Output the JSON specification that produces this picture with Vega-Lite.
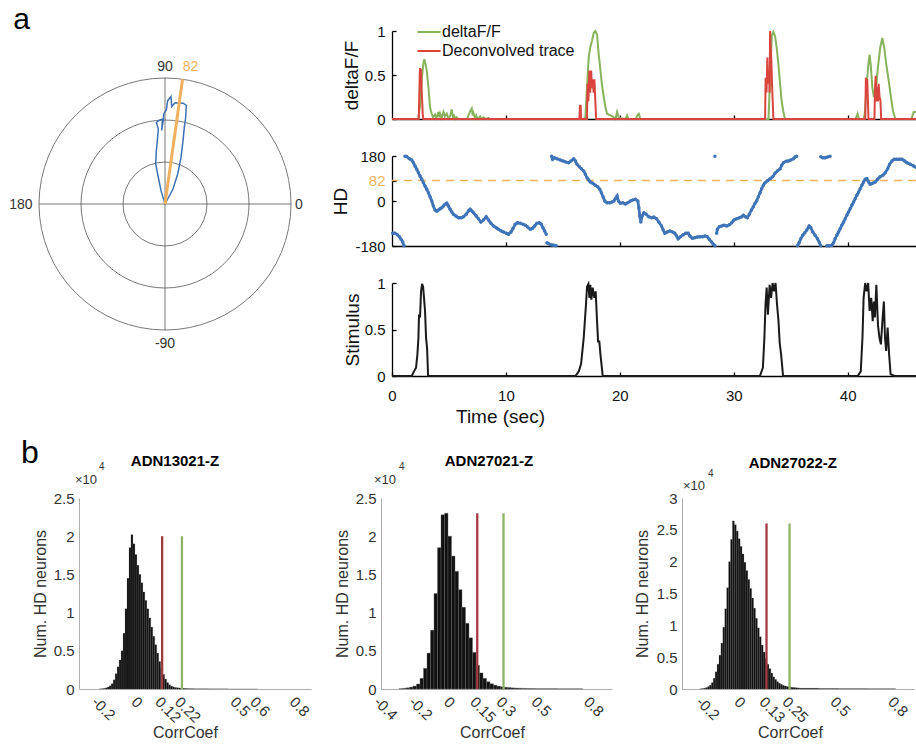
{
"$schema": "https://vega.github.io/schema/vega-lite/v6.json",
"background": "white",
"autosize": {"type": "pad"},
"padding": {"left": 9, "top": 5, "right": 0, "bottom": 0},
"config": {
  "font": "Liberation Sans",
  "view": {"stroke": null},
  "axis": {"grid": false, "labelFont": "Liberation Sans", "titleFont": "Liberation Sans", "titleFontWeight": "normal", "labelOverlap": false, "labelFlush": false, "labelBound": false, "tickCount": 30}
},
"datasets": {
  "rings": [{"r": 1}, {"r": 2}, {"r": 3}],
  "cross": [{"x1": -3, "x2": 3, "y1": 0, "y2": 0}, {"x1": 0, "x2": 0, "y1": -3, "y2": 3}],
  "pref": [{"x1": 0, "y1": 0, "x2": 0.418, "y2": 2.971}],
  "pol": [{"i":0,"x":0,"y":0},{"i":1,"x":-0.095,"y":0.317},{"i":2,"x":-0.175,"y":0.714},{"i":3,"x":-0.222,"y":0.952},{"i":4,"x":-0.206,"y":1.27},{"i":5,"x":-0.175,"y":1.587},{"i":6,"x":-0.159,"y":1.786},{"i":7,"x":-0.206,"y":1.944},{"i":8,"x":-0.111,"y":2.008},{"i":9,"x":-0.063,"y":2.02},{"i":10,"x":-0.079,"y":1.75},{"i":11,"x":-0.04,"y":2.0},{"i":12,"x":-0.032,"y":2.14},{"i":13,"x":0.032,"y":2.24},{"i":14,"x":0.063,"y":2.46},{"i":15,"x":0.111,"y":2.52},{"i":16,"x":0.143,"y":2.56},{"i":17,"x":0.159,"y":2.32},{"i":18,"x":0.238,"y":2.41},{"i":19,"x":0.429,"y":2.4},{"i":20,"x":0.508,"y":2.35},{"i":21,"x":0.492,"y":2.06},{"i":22,"x":0.46,"y":1.83},{"i":23,"x":0.429,"y":1.51},{"i":24,"x":0.381,"y":1.11},{"i":25,"x":0.302,"y":0.714},{"i":26,"x":0.19,"y":0.357},{"i":27,"x":0,"y":0}],
  "plab": [{"text":"90","x":0,"y":3.25},{"text":"82","x":0.607,"y":3.25},{"text":"180","x":-3.43,"y":-0.02},{"text":"0","x":3.19,"y":-0.02},{"text":"-90","x":0,"y":-3.34}],
  "dffg": [{"t":0,"v":0},{"t":2.3,"v":0},{"t":2.46,"v":0.15},{"t":2.61,"v":0.45},{"t":2.76,"v":0.64},{"t":2.84,"v":0.68},{"t":2.95,"v":0.62},{"t":3.05,"v":0.55},{"t":3.2,"v":0.36},{"t":3.34,"v":0.13},{"t":3.49,"v":0.06},{"t":3.6,"v":0.02},{"t":3.78,"v":0.05},{"t":3.9,"v":0.01},{"t":4.07,"v":0.08},{"t":4.15,"v":0.02},{"t":4.22,"v":0.06},{"t":4.35,"v":0.01},{"t":4.52,"v":0.08},{"t":4.65,"v":0.03},{"t":4.81,"v":0.06},{"t":4.95,"v":0.01},{"t":5.1,"v":0.03},{"t":5.25,"v":0.11},{"t":5.35,"v":0.02},{"t":5.45,"v":0.04},{"t":5.6,"v":0},{"t":5.69,"v":0.02},{"t":5.8,"v":0},{"t":6.6,"v":0},{"t":6.71,"v":0.04},{"t":6.86,"v":0.09},{"t":7.0,"v":0.12},{"t":7.08,"v":0.04},{"t":7.15,"v":0.07},{"t":7.3,"v":0.01},{"t":7.39,"v":0.04},{"t":7.5,"v":0},{"t":7.74,"v":0.03},{"t":7.85,"v":0},{"t":8.04,"v":0.02},{"t":8.2,"v":0},{"t":8.47,"v":0.01},{"t":8.6,"v":0},{"t":16.8,"v":0},{"t":16.97,"v":0.02},{"t":17.12,"v":0.36},{"t":17.27,"v":0.7},{"t":17.4,"v":0.81},{"t":17.56,"v":0.89},{"t":17.71,"v":0.98},{"t":17.85,"v":1.0},{"t":18.0,"v":0.96},{"t":18.15,"v":0.73},{"t":18.3,"v":0.55},{"t":18.44,"v":0.38},{"t":18.59,"v":0.25},{"t":18.73,"v":0.14},{"t":18.88,"v":0.06},{"t":19.17,"v":0.04},{"t":19.47,"v":0.02},{"t":19.62,"v":0},{"t":19.76,"v":0.08},{"t":19.9,"v":0.02},{"t":20.05,"v":0.01},{"t":20.5,"v":0},{"t":20.64,"v":0.04},{"t":20.75,"v":0},{"t":21.4,"v":0},{"t":21.52,"v":0.04},{"t":21.66,"v":0.06},{"t":21.8,"v":0},{"t":33.05,"v":0},{"t":33.2,"v":0.5},{"t":33.34,"v":0.95},{"t":33.48,"v":0.99},{"t":33.63,"v":0.94},{"t":33.77,"v":0.81},{"t":33.92,"v":0.62},{"t":34.07,"v":0.4},{"t":34.2,"v":0.21},{"t":34.36,"v":0.08},{"t":34.5,"v":0},{"t":40.7,"v":0},{"t":40.87,"v":0.06},{"t":41.0,"v":0},{"t":41.4,"v":0},{"t":41.5,"v":0.06},{"t":41.7,"v":0.44},{"t":41.85,"v":0.66},{"t":41.93,"v":0.73},{"t":42.02,"v":0.62},{"t":42.17,"v":0.36},{"t":42.3,"v":0.25},{"t":42.5,"v":0.36},{"t":42.65,"v":0.58},{"t":42.86,"v":0.81},{"t":43.04,"v":0.92},{"t":43.21,"v":0.81},{"t":43.39,"v":0.62},{"t":43.6,"v":0.44},{"t":43.8,"v":0.25},{"t":43.98,"v":0.09},{"t":44.19,"v":0},{"t":45.6,"v":0},{"t":45.8,"v":0.08},{"t":46.0,"v":0.08}],
  "dffr": [{"t":0,"v":0},{"t":2.35,"v":0},{"t":2.4,"v":0.3},{"t":2.45,"v":0.58},{"t":2.5,"v":0.45},{"t":2.55,"v":0.57},{"t":2.6,"v":0.35},{"t":2.65,"v":0.2},{"t":2.7,"v":0.05},{"t":2.75,"v":0},{"t":16.45,"v":0},{"t":16.5,"v":0.15},{"t":16.56,"v":0.15},{"t":16.6,"v":0},{"t":17.12,"v":0},{"t":17.16,"v":0.4},{"t":17.24,"v":0.2},{"t":17.32,"v":0.55},{"t":17.4,"v":0.3},{"t":17.48,"v":0.55},{"t":17.56,"v":0.35},{"t":17.62,"v":0.45},{"t":17.7,"v":0.3},{"t":17.77,"v":0.45},{"t":17.85,"v":0.2},{"t":17.92,"v":0},{"t":32.75,"v":0},{"t":32.8,"v":0.47},{"t":32.88,"v":0.3},{"t":32.95,"v":0.7},{"t":33.02,"v":0.4},{"t":33.1,"v":0.55},{"t":33.15,"v":0.3},{"t":33.19,"v":1.0},{"t":33.25,"v":0.8},{"t":33.3,"v":0.66},{"t":33.36,"v":0.4},{"t":33.42,"v":0.21},{"t":33.48,"v":0},{"t":41.55,"v":0},{"t":41.6,"v":0.47},{"t":41.66,"v":0.3},{"t":41.72,"v":0.45},{"t":41.78,"v":0.21},{"t":41.83,"v":0},{"t":42.35,"v":0},{"t":42.4,"v":0.33},{"t":42.46,"v":0.49},{"t":42.55,"v":0.2},{"t":42.6,"v":0.36},{"t":42.66,"v":0.2},{"t":42.72,"v":0.4},{"t":42.8,"v":0.25},{"t":42.88,"v":0.21},{"t":42.94,"v":0},{"t":46,"v":0}],
  "stim": [{"t":0,"v":0},{"t":1.73,"v":0},{"t":1.93,"v":0.05},{"t":2.11,"v":0.09},{"t":2.23,"v":0.23},{"t":2.32,"v":0.41},{"t":2.37,"v":0.66},{"t":2.46,"v":0.63},{"t":2.55,"v":0.91},{"t":2.64,"v":0.99},{"t":2.73,"v":0.96},{"t":2.81,"v":0.84},{"t":2.9,"v":0.7},{"t":2.99,"v":0.41},{"t":3.08,"v":0.3},{"t":3.17,"v":0},{"t":16.1,"v":0},{"t":16.4,"v":0.05},{"t":16.6,"v":0.13},{"t":16.83,"v":0.41},{"t":17.03,"v":0.77},{"t":17.12,"v":0.96},{"t":17.24,"v":0.99},{"t":17.33,"v":0.84},{"t":17.41,"v":0.98},{"t":17.5,"v":0.82},{"t":17.62,"v":0.95},{"t":17.76,"v":0.84},{"t":17.88,"v":0.91},{"t":18.0,"v":0.59},{"t":18.09,"v":0.37},{"t":18.2,"v":0.37},{"t":18.3,"v":0.23},{"t":18.5,"v":0},{"t":32.3,"v":0},{"t":32.56,"v":0.09},{"t":32.69,"v":0.41},{"t":32.79,"v":0.77},{"t":32.89,"v":0.95},{"t":33.0,"v":0.66},{"t":33.15,"v":0.98},{"t":33.28,"v":0.84},{"t":33.41,"v":1.0},{"t":33.54,"v":0.91},{"t":33.67,"v":1.0},{"t":33.8,"v":0.77},{"t":33.93,"v":0.59},{"t":34.03,"v":0.36},{"t":34.16,"v":0.23},{"t":34.33,"v":0},{"t":40.89,"v":0},{"t":41.15,"v":0.05},{"t":41.3,"v":0.41},{"t":41.4,"v":0.84},{"t":41.54,"v":1.0},{"t":41.67,"v":0.91},{"t":41.8,"v":1.0},{"t":41.93,"v":0.7},{"t":42.07,"v":0.84},{"t":42.2,"v":0.59},{"t":42.3,"v":0.8},{"t":42.39,"v":0.63},{"t":42.52,"v":0.98},{"t":42.66,"v":0.55},{"t":42.79,"v":0.41},{"t":42.92,"v":0.34},{"t":43.05,"v":0.59},{"t":43.18,"v":0.8},{"t":43.28,"v":0.41},{"t":43.38,"v":0.27},{"t":43.51,"v":0.52},{"t":43.64,"v":0.23},{"t":43.77,"v":0.02},{"t":44.1,"v":0},{"t":46,"v":0}],
  "hd": [{"t":0.06,"h":-129,"s":1},{"t":0.26,"h":-129,"s":1},{"t":0.47,"h":-135,"s":1},{"t":0.65,"h":-143,"s":1},{"t":0.79,"h":-153,"s":1},{"t":0.94,"h":-164,"s":1},{"t":1.06,"h":-179,"s":1},
    {"t":1.14,"h":179,"s":2},{"t":1.29,"h":178,"s":2},{"t":1.52,"h":169,"s":2},{"t":1.73,"h":164,"s":2},{"t":1.88,"h":153,"s":2},{"t":2.02,"h":140,"s":2},{"t":2.17,"h":127,"s":2},{"t":2.32,"h":113,"s":2},{"t":2.46,"h":100,"s":2},{"t":2.61,"h":87,"s":2},{"t":2.76,"h":73,"s":2},{"t":2.9,"h":60,"s":2},{"t":3.05,"h":47,"s":2},{"t":3.2,"h":33,"s":2},{"t":3.34,"h":17,"s":2},{"t":3.49,"h":0,"s":2},{"t":3.63,"h":-20,"s":2},{"t":3.78,"h":-36,"s":2},{"t":3.93,"h":-41,"s":2},{"t":4.07,"h":-36,"s":2},{"t":4.22,"h":-31,"s":2},{"t":4.37,"h":-27,"s":2},{"t":4.52,"h":-20,"s":2},{"t":4.66,"h":-13,"s":2},{"t":4.81,"h":-9,"s":2},{"t":4.95,"h":-20,"s":2},{"t":5.1,"h":-33,"s":2},{"t":5.25,"h":-44,"s":2},{"t":5.39,"h":-53,"s":2},{"t":5.6,"h":-60,"s":2},{"t":5.83,"h":-67,"s":2},{"t":6.07,"h":-67,"s":2},{"t":6.27,"h":-63,"s":2},{"t":6.51,"h":-53,"s":2},{"t":6.71,"h":-40,"s":2},{"t":6.86,"h":-33,"s":2},{"t":7.01,"h":-40,"s":2},{"t":7.15,"h":-47,"s":2},{"t":7.39,"h":-60,"s":2},{"t":7.59,"h":-71,"s":2},{"t":7.8,"h":-84,"s":2},{"t":8.03,"h":-76,"s":2},{"t":8.27,"h":-63,"s":2},{"t":8.47,"h":-76,"s":2},{"t":8.68,"h":-89,"s":2},{"t":8.91,"h":-100,"s":2},{"t":9.15,"h":-107,"s":2},{"t":9.35,"h":-113,"s":2},{"t":9.59,"h":-120,"s":2},{"t":9.79,"h":-124,"s":2},{"t":10.03,"h":-129,"s":2},{"t":10.23,"h":-133,"s":2},{"t":10.44,"h":-124,"s":2},{"t":10.61,"h":-111,"s":2},{"t":10.82,"h":-93,"s":2},{"t":11.02,"h":-87,"s":2},{"t":11.26,"h":-89,"s":2},{"t":11.49,"h":-93,"s":2},{"t":11.7,"h":-97,"s":2},{"t":11.9,"h":-104,"s":2},{"t":12.14,"h":-113,"s":2},{"t":12.34,"h":-109,"s":2},{"t":12.52,"h":-100,"s":2},{"t":12.72,"h":-89,"s":2},{"t":12.93,"h":-87,"s":2},{"t":13.11,"h":-93,"s":2},{"t":13.25,"h":-107,"s":2},{"t":13.4,"h":-120,"s":2},{"t":13.54,"h":-133,"s":2},
    {"t":13.6,"h":-167,"s":3},{"t":13.75,"h":-171,"s":3},{"t":13.95,"h":-175,"s":3},{"t":14.19,"h":-177,"s":3},{"t":14.42,"h":-179,"s":3},
    {"t":14.01,"h":179,"s":4},{"t":14.1,"h":167,"s":4},{"t":14.25,"h":173,"s":4},{"t":14.48,"h":169,"s":4},{"t":14.78,"h":164,"s":4},{"t":15.01,"h":160,"s":4},{"t":15.25,"h":156,"s":4},{"t":15.51,"h":153,"s":4},{"t":15.71,"h":160,"s":4},{"t":15.95,"h":169,"s":4},{"t":16.1,"h":160,"s":4},{"t":16.24,"h":147,"s":4},{"t":16.45,"h":137,"s":4},{"t":16.62,"h":129,"s":4},{"t":16.83,"h":120,"s":4},{"t":16.97,"h":107,"s":4},{"t":17.12,"h":93,"s":4},{"t":17.27,"h":84,"s":4},{"t":17.41,"h":76,"s":4},{"t":17.62,"h":71,"s":4},{"t":17.85,"h":63,"s":4},{"t":18.06,"h":57,"s":4},{"t":18.24,"h":47,"s":4},{"t":18.38,"h":33,"s":4},{"t":18.53,"h":17,"s":4},{"t":18.68,"h":0,"s":4},{"t":18.88,"h":-7,"s":4},{"t":19.11,"h":-7,"s":4},{"t":19.32,"h":-4,"s":4},{"t":19.47,"h":0,"s":4},{"t":19.61,"h":9,"s":4},{"t":19.76,"h":20,"s":4},{"t":19.88,"h":0,"s":4},{"t":20.05,"h":-9,"s":4},{"t":20.26,"h":-7,"s":4},{"t":20.49,"h":-12,"s":4},{"t":20.7,"h":-7,"s":4},{"t":20.93,"h":0,"s":4},{"t":21.14,"h":4,"s":4},{"t":21.37,"h":7,"s":4},{"t":21.58,"h":0,"s":4},{"t":21.67,"h":-27,"s":4},{"t":21.75,"h":-60,"s":4},{"t":21.84,"h":-84,"s":4},{"t":21.96,"h":-60,"s":4},{"t":22.11,"h":-47,"s":4},{"t":22.31,"h":-53,"s":4},{"t":22.54,"h":-63,"s":4},{"t":22.78,"h":-67,"s":4},{"t":22.98,"h":-64,"s":4},{"t":23.22,"h":-71,"s":4},{"t":23.42,"h":-84,"s":4},{"t":23.66,"h":-100,"s":4},{"t":23.81,"h":-116,"s":4},{"t":23.95,"h":-129,"s":4},{"t":24.16,"h":-124,"s":4},{"t":24.39,"h":-120,"s":4},{"t":24.63,"h":-124,"s":4},{"t":24.83,"h":-129,"s":4},{"t":24.98,"h":-140,"s":4},{"t":25.12,"h":-151,"s":4},{"t":25.33,"h":-143,"s":4},{"t":25.56,"h":-135,"s":4},{"t":25.8,"h":-129,"s":4},{"t":26.0,"h":-129,"s":4},{"t":26.15,"h":-140,"s":4},{"t":26.36,"h":-149,"s":4},{"t":26.59,"h":-147,"s":4},{"t":26.8,"h":-144,"s":4},{"t":27.03,"h":-143,"s":4},{"t":27.27,"h":-143,"s":4},{"t":27.47,"h":-140,"s":4},{"t":27.68,"h":-143,"s":4},{"t":27.85,"h":-153,"s":4},{"t":28.06,"h":-164,"s":4},{"t":28.2,"h":-173,"s":4},{"t":28.35,"h":-179,"s":4},
    {"t":28.35,"h":179,"s":5},
    {"t":28.5,"h":-129,"s":6},{"t":28.56,"h":-113,"s":6},{"t":28.73,"h":-103,"s":6},{"t":28.94,"h":-100,"s":6},{"t":29.14,"h":-97,"s":6},{"t":29.38,"h":-100,"s":6},{"t":29.61,"h":-95,"s":6},{"t":29.82,"h":-87,"s":6},{"t":30.02,"h":-76,"s":6},{"t":30.26,"h":-71,"s":6},{"t":30.49,"h":-67,"s":6},{"t":30.7,"h":-63,"s":6},{"t":30.84,"h":-57,"s":6},{"t":31.02,"h":-63,"s":6},{"t":31.19,"h":-67,"s":6},{"t":31.37,"h":-53,"s":6},{"t":31.55,"h":-36,"s":6},{"t":31.72,"h":-23,"s":6},{"t":31.87,"h":-9,"s":6},{"t":32.01,"h":0,"s":6},{"t":32.16,"h":17,"s":6},{"t":32.31,"h":33,"s":6},{"t":32.45,"h":49,"s":6},{"t":32.6,"h":63,"s":6},{"t":32.75,"h":73,"s":6},{"t":32.95,"h":81,"s":6},{"t":33.19,"h":89,"s":6},{"t":33.42,"h":97,"s":6},{"t":33.63,"h":111,"s":6},{"t":33.83,"h":120,"s":6},{"t":34.07,"h":129,"s":6},{"t":34.21,"h":143,"s":6},{"t":34.36,"h":153,"s":6},{"t":34.59,"h":159,"s":6},{"t":34.8,"h":160,"s":6},{"t":35.0,"h":164,"s":6},{"t":35.24,"h":169,"s":6},{"t":35.39,"h":176,"s":6},{"t":35.53,"h":179,"s":6},
    {"t":37.64,"h":177,"s":7},{"t":37.82,"h":173,"s":7},{"t":38.02,"h":173,"s":7},{"t":38.23,"h":176,"s":7},{"t":38.46,"h":179,"s":7},
    {"t":35.59,"h":-179,"s":8},{"t":35.74,"h":-167,"s":8},{"t":35.88,"h":-151,"s":8},{"t":36.06,"h":-137,"s":8},{"t":36.24,"h":-127,"s":8},{"t":36.41,"h":-116,"s":8},{"t":36.62,"h":-100,"s":8},{"t":36.76,"h":-107,"s":8},{"t":36.94,"h":-124,"s":8},{"t":37.14,"h":-137,"s":8},{"t":37.35,"h":-151,"s":8},{"t":37.53,"h":-167,"s":8},{"t":37.64,"h":-179,"s":8},
    {"t":38.17,"h":-179,"s":9},{"t":38.41,"h":-179,"s":9},{"t":38.61,"h":-177,"s":9},{"t":38.76,"h":-167,"s":9},{"t":38.9,"h":-151,"s":9},{"t":39.05,"h":-137,"s":9},{"t":39.2,"h":-124,"s":9},{"t":39.34,"h":-111,"s":9},{"t":39.49,"h":-97,"s":9},{"t":39.64,"h":-84,"s":9},{"t":39.78,"h":-71,"s":9},{"t":39.93,"h":-57,"s":9},{"t":40.08,"h":-44,"s":9},{"t":40.22,"h":-31,"s":9},{"t":40.37,"h":-17,"s":9},{"t":40.52,"h":-4,"s":9},{"t":40.66,"h":9,"s":9},{"t":40.81,"h":23,"s":9},{"t":40.96,"h":36,"s":9},{"t":41.1,"h":49,"s":9},{"t":41.25,"h":63,"s":9},{"t":41.4,"h":76,"s":9},{"t":41.54,"h":87,"s":9},{"t":41.69,"h":89,"s":9},{"t":41.84,"h":76,"s":9},{"t":41.98,"h":67,"s":9},{"t":42.19,"h":71,"s":9},{"t":42.42,"h":76,"s":9},{"t":42.63,"h":87,"s":9},{"t":42.86,"h":97,"s":9},{"t":43.1,"h":103,"s":9},{"t":43.3,"h":113,"s":9},{"t":43.51,"h":129,"s":9},{"t":43.68,"h":147,"s":9},{"t":43.89,"h":160,"s":9},{"t":44.09,"h":167,"s":9},{"t":44.33,"h":167,"s":9},{"t":44.56,"h":167,"s":9},{"t":44.77,"h":167,"s":9},{"t":44.97,"h":161,"s":9},{"t":45.21,"h":153,"s":9},{"t":45.5,"h":147,"s":9},{"t":45.79,"h":140,"s":9},{"t":46.0,"h":134,"s":9}],
  "h1": [{"lo":-0.2,"hi":-0.19,"n":20},{"lo":-0.19,"hi":-0.18,"n":40},{"lo":-0.18,"hi":-0.17,"n":80},{"lo":-0.17,"hi":-0.16,"n":150},{"lo":-0.16,"hi":-0.15,"n":260},{"lo":-0.15,"hi":-0.14,"n":420},{"lo":-0.14,"hi":-0.13,"n":700},{"lo":-0.13,"hi":-0.12,"n":1200},{"lo":-0.12,"hi":-0.11,"n":2000},{"lo":-0.11,"hi":-0.1,"n":2900},{"lo":-0.1,"hi":-0.09,"n":3800},{"lo":-0.09,"hi":-0.08,"n":5000},{"lo":-0.08,"hi":-0.07,"n":7300},{"lo":-0.07,"hi":-0.06,"n":10500},{"lo":-0.06,"hi":-0.05,"n":14500},{"lo":-0.05,"hi":-0.04,"n":18500},{"lo":-0.04,"hi":-0.03,"n":20200},{"lo":-0.03,"hi":-0.02,"n":19000},{"lo":-0.02,"hi":-0.01,"n":17600},{"lo":-0.01,"hi":0,"n":16200},{"lo":0,"hi":0.01,"n":15000},{"lo":0.01,"hi":0.02,"n":13900},{"lo":0.02,"hi":0.03,"n":12700},{"lo":0.03,"hi":0.04,"n":11600},{"lo":0.04,"hi":0.05,"n":10500},{"lo":0.05,"hi":0.06,"n":9300},{"lo":0.06,"hi":0.07,"n":8100},{"lo":0.07,"hi":0.08,"n":6900},{"lo":0.08,"hi":0.09,"n":5800},{"lo":0.09,"hi":0.1,"n":4700},{"lo":0.1,"hi":0.11,"n":3600},{"lo":0.11,"hi":0.12,"n":2700},{"lo":0.12,"hi":0.13,"n":1900},{"lo":0.13,"hi":0.14,"n":1300},{"lo":0.14,"hi":0.15,"n":850},{"lo":0.15,"hi":0.16,"n":560},{"lo":0.16,"hi":0.17,"n":380},{"lo":0.17,"hi":0.18,"n":270},{"lo":0.18,"hi":0.19,"n":200},{"lo":0.19,"hi":0.2,"n":160},{"lo":0.2,"hi":0.21,"n":130},{"lo":0.21,"hi":0.22,"n":110},{"lo":0.22,"hi":0.23,"n":90},{"lo":0.23,"hi":0.24,"n":75},{"lo":0.24,"hi":0.25,"n":60},{"lo":0.25,"hi":0.26,"n":50},{"lo":0.26,"hi":0.27,"n":45},{"lo":0.27,"hi":0.28,"n":40},{"lo":0.28,"hi":0.35,"n":30},{"lo":0.35,"hi":0.45,"n":20},{"lo":0.45,"hi":0.6,"n":10}],
  "h2": [{"lo":-0.3,"hi":-0.28,"n":40},{"lo":-0.28,"hi":-0.26,"n":90},{"lo":-0.26,"hi":-0.24,"n":150},{"lo":-0.24,"hi":-0.22,"n":250},{"lo":-0.22,"hi":-0.2,"n":380},{"lo":-0.2,"hi":-0.18,"n":650},{"lo":-0.18,"hi":-0.16,"n":1400},{"lo":-0.16,"hi":-0.14,"n":2700},{"lo":-0.14,"hi":-0.12,"n":4700},{"lo":-0.12,"hi":-0.1,"n":7700},{"lo":-0.1,"hi":-0.08,"n":12500},{"lo":-0.08,"hi":-0.06,"n":18500},{"lo":-0.06,"hi":-0.04,"n":22800},{"lo":-0.04,"hi":-0.02,"n":23000},{"lo":-0.02,"hi":0,"n":20000},{"lo":0,"hi":0.02,"n":17400},{"lo":0.02,"hi":0.04,"n":15400},{"lo":0.04,"hi":0.06,"n":13000},{"lo":0.06,"hi":0.08,"n":10700},{"lo":0.08,"hi":0.1,"n":8600},{"lo":0.1,"hi":0.12,"n":6700},{"lo":0.12,"hi":0.14,"n":4800},{"lo":0.14,"hi":0.16,"n":3100},{"lo":0.16,"hi":0.18,"n":2100},{"lo":0.18,"hi":0.2,"n":1400},{"lo":0.2,"hi":0.22,"n":950},{"lo":0.22,"hi":0.24,"n":680},{"lo":0.24,"hi":0.26,"n":500},{"lo":0.26,"hi":0.28,"n":370},{"lo":0.28,"hi":0.3,"n":290},{"lo":0.3,"hi":0.32,"n":230},{"lo":0.32,"hi":0.34,"n":190},{"lo":0.34,"hi":0.36,"n":150},{"lo":0.36,"hi":0.38,"n":120},{"lo":0.38,"hi":0.4,"n":100},{"lo":0.4,"hi":0.42,"n":80},{"lo":0.42,"hi":0.44,"n":70},{"lo":0.44,"hi":0.46,"n":60},{"lo":0.46,"hi":0.48,"n":50},{"lo":0.48,"hi":0.6,"n":40},{"lo":0.6,"hi":0.75,"n":25}],
  "h3": [{"lo":-0.22,"hi":-0.21,"n":30},{"lo":-0.21,"hi":-0.2,"n":70},{"lo":-0.2,"hi":-0.19,"n":130},{"lo":-0.19,"hi":-0.18,"n":220},{"lo":-0.18,"hi":-0.17,"n":380},{"lo":-0.17,"hi":-0.16,"n":600},{"lo":-0.16,"hi":-0.15,"n":1000},{"lo":-0.15,"hi":-0.14,"n":1700},{"lo":-0.14,"hi":-0.13,"n":2700},{"lo":-0.13,"hi":-0.12,"n":3900},{"lo":-0.12,"hi":-0.11,"n":5300},{"lo":-0.11,"hi":-0.1,"n":7200},{"lo":-0.1,"hi":-0.09,"n":9700},{"lo":-0.09,"hi":-0.08,"n":12600},{"lo":-0.08,"hi":-0.07,"n":15900},{"lo":-0.07,"hi":-0.06,"n":20000},{"lo":-0.06,"hi":-0.05,"n":23500},{"lo":-0.05,"hi":-0.04,"n":26400},{"lo":-0.04,"hi":-0.03,"n":25800},{"lo":-0.03,"hi":-0.02,"n":24800},{"lo":-0.02,"hi":-0.01,"n":23600},{"lo":-0.01,"hi":0,"n":22400},{"lo":0,"hi":0.01,"n":21200},{"lo":0.01,"hi":0.02,"n":19900},{"lo":0.02,"hi":0.03,"n":18600},{"lo":0.03,"hi":0.04,"n":17200},{"lo":0.04,"hi":0.05,"n":15800},{"lo":0.05,"hi":0.06,"n":14300},{"lo":0.06,"hi":0.07,"n":12700},{"lo":0.07,"hi":0.08,"n":11100},{"lo":0.08,"hi":0.09,"n":9600},{"lo":0.09,"hi":0.1,"n":8200},{"lo":0.1,"hi":0.11,"n":6900},{"lo":0.11,"hi":0.12,"n":5800},{"lo":0.12,"hi":0.13,"n":4800},{"lo":0.13,"hi":0.14,"n":3900},{"lo":0.14,"hi":0.15,"n":3200},{"lo":0.15,"hi":0.16,"n":2500},{"lo":0.16,"hi":0.17,"n":1900},{"lo":0.17,"hi":0.18,"n":1500},{"lo":0.18,"hi":0.19,"n":1150},{"lo":0.19,"hi":0.2,"n":900},{"lo":0.2,"hi":0.21,"n":720},{"lo":0.21,"hi":0.22,"n":580},{"lo":0.22,"hi":0.23,"n":470},{"lo":0.23,"hi":0.24,"n":400},{"lo":0.24,"hi":0.25,"n":340},{"lo":0.25,"hi":0.26,"n":290},{"lo":0.26,"hi":0.27,"n":250},{"lo":0.27,"hi":0.28,"n":220},{"lo":0.28,"hi":0.29,"n":190},{"lo":0.29,"hi":0.3,"n":165},{"lo":0.3,"hi":0.4,"n":120},{"lo":0.4,"hi":0.5,"n":80},{"lo":0.5,"hi":0.65,"n":60},{"lo":0.65,"hi":0.8,"n":45}]
},
"spacing": 11,
"resolve": {"scale": {"color": "independent"}},
"vconcat": [
 {
  "hconcat": [
   {
    "width": 212, "height": 345,
    "layer": [
     {"data": {"name": "rings"}, "mark": {"type": "arc", "theta": 0, "theta2": 6.2832, "filled": false, "color": "#555555", "strokeWidth": 0.8},
      "encoding": {
        "x": {"datum": 0, "type": "quantitative", "scale": {"domain": [-2.048, 3], "nice": false, "zero": false}, "axis": null},
        "y": {"datum": 0, "type": "quantitative", "scale": {"domain": [-4.095, 4.119], "nice": false, "zero": false}, "axis": null},
        "radius": {"field": "r", "type": "quantitative", "stack": null, "scale": {"type": "linear", "domain": [0, 3], "range": [0, 126], "zero": true}}}},
     {"data": {"name": "cross"}, "mark": {"type": "rule", "color": "#555555", "strokeWidth": 0.8},
      "encoding": {"x": {"field": "x1", "type": "quantitative", "axis": null}, "x2": {"field": "x2"}, "y": {"field": "y1", "type": "quantitative", "axis": null}, "y2": {"field": "y2"}}},
     {"data": {"name": "pol"}, "mark": {"type": "line", "color": "#3e72b6", "strokeWidth": 1.5},
      "encoding": {"x": {"field": "x", "type": "quantitative", "axis": null}, "y": {"field": "y", "type": "quantitative", "axis": null}, "order": {"field": "i", "type": "quantitative"}}},
     {"data": {"name": "pref"}, "mark": {"type": "rule", "color": "#f0b15e", "strokeWidth": 3},
      "encoding": {"x": {"field": "x1", "type": "quantitative", "axis": null}, "x2": {"field": "x2"}, "y": {"field": "y1", "type": "quantitative", "axis": null}, "y2": {"field": "y2"}}},
     {"data": {"name": "plab"}, "mark": {"type": "text", "fontSize": 14, "align": "center", "baseline": "middle"},
      "encoding": {"x": {"field": "x", "type": "quantitative", "axis": null}, "y": {"field": "y", "type": "quantitative", "axis": null}, "text": {"field": "text"},
        "color": {"condition": {"test": "datum.text === '82'", "value": "#f0b15e"}, "value": "#333333"}}},
     {"data": {"values": [{}]}, "mark": {"type": "text", "text": "a", "fontSize": 30, "align": "left", "baseline": "alphabetic", "color": "black"},
      "encoding": {"x": {"datum": -3.612, "type": "quantitative", "axis": null}, "y": {"datum": 4.16, "type": "quantitative", "axis": null}}}
    ]
   },
   {
    "vconcat": [
     {
      "width": 524, "height": 88,
      "layer": [
       {"data": {"name": "dffg"}, "mark": {"type": "line", "strokeWidth": 2},
        "encoding": {
          "x": {"field": "t", "type": "quantitative", "scale": {"domain": [0, 46], "nice": false, "zero": false},
                "axis": {"values": [10, 20, 30, 40], "labels": false, "title": null, "domainColor": "black", "domainWidth": 1.3, "tickColor": "black", "tickWidth": 1.3, "tickSize": -4}},
          "y": {"field": "v", "type": "quantitative", "scale": {"domain": [0, 1], "nice": false},
                "axis": {"values": [0, 0.5, 1], "tickCount": 30, "labelExpr": "'' + datum.value", "title": "deltaF/F", "titleX": -41, "titleBaseline": "middle", "titleFontSize": 19, "titleColor": "#111111", "labelFontSize": 15, "labelColor": "#111111", "labelPadding": 11, "domainColor": "black", "domainWidth": 1.3, "tickColor": "black", "tickWidth": 1.3, "tickSize": -4}},
          "color": {"datum": "deltaF/F", "type": "nominal", "scale": {"domain": ["deltaF/F", "Deconvolved trace"], "range": ["#87b35c", "#d9453c"]},
                    "legend": {"title": null, "orient": "none", "legendX": 28, "legendY": -8, "direction": "vertical", "symbolType": "M-1.45,0H1.45", "symbolSize": 256, "symbolStrokeWidth": 2, "labelFontSize": 16, "labelFont": "Liberation Sans", "labelColor": "#111111", "labelOffset": 4, "rowPadding": 2, "padding": 0}}}},
       {"data": {"name": "dffr"}, "mark": {"type": "line", "strokeWidth": 2},
        "encoding": {"x": {"field": "t", "type": "quantitative"}, "y": {"field": "v", "type": "quantitative"}, "color": {"datum": "Deconvolved trace", "type": "nominal"}}}
      ]
     },
     {
      "width": 524, "height": 90,
      "layer": [
       {"data": {"values": [{}]}, "mark": {"type": "rule", "color": "#f0b25f", "strokeWidth": 1.6, "strokeDash": [8, 6]},
        "encoding": {"y": {"datum": 82, "type": "quantitative", "scale": {"domain": [-180, 180], "nice": false, "zero": false},
          "axis": {"values": [-180, 0, 82, 180], "tickCount": 30, "labelExpr": "'' + datum.value", "title": "HD", "titleX": -52, "titleBaseline": "middle", "titleFontSize": 19, "titleColor": "#111111", "labelFontSize": 15, "labelPadding": 11,
                   "labelColor": {"condition": {"test": "datum.value === 82", "value": "#f0b25f"}, "value": "#111111"},
                   "domainColor": "black", "domainWidth": 1.3, "tickColor": "black", "tickWidth": 1.3, "tickSize": -4}}}},
       {"data": {"name": "hd"}, "mark": {"type": "line", "color": "#3f74b8", "strokeWidth": 2.8},
        "encoding": {"x": {"field": "t", "type": "quantitative", "scale": {"domain": [0, 46], "nice": false, "zero": false},
                "axis": {"values": [10, 20, 30, 40], "labels": false, "title": null, "domainColor": "black", "domainWidth": 1.3, "tickColor": "black", "tickWidth": 1.3, "tickSize": -4}},
          "y": {"field": "h", "type": "quantitative"}, "detail": {"field": "s", "type": "nominal"}}},
       {"data": {"name": "hd"}, "mark": {"type": "point", "filled": true, "color": "#3f74b8", "size": 12, "opacity": 1},
        "encoding": {"x": {"field": "t", "type": "quantitative"}, "y": {"field": "h", "type": "quantitative"}}}
      ]
     },
     {
      "width": 524, "height": 93,
      "data": {"name": "stim"},
      "mark": {"type": "line", "color": "#1a1a1a", "strokeWidth": 2},
      "encoding": {
        "x": {"field": "t", "type": "quantitative", "scale": {"domain": [0, 46], "nice": false, "zero": false},
              "axis": {"values": [0, 10, 20, 30, 40], "tickCount": 30, "labelExpr": "'' + datum.value", "title": "Time (sec)", "titleX": 108, "titleY": 40, "titleBaseline": "middle", "titleFontSize": 19, "titleColor": "#111111", "labelFontSize": 15, "labelColor": "#111111", "labelPadding": 16, "domainColor": "black", "domainWidth": 1.3, "tickColor": "black", "tickWidth": 1.3, "tickSize": -4}},
        "y": {"field": "v", "type": "quantitative", "scale": {"domain": [0, 1], "nice": false},
              "axis": {"values": [0, 0.5, 1], "tickCount": 30, "labelExpr": "'' + datum.value", "title": "Stimulus", "titleX": -40, "titleBaseline": "middle", "titleFontSize": 19, "titleColor": "#111111", "labelFontSize": 15, "labelColor": "#111111", "labelPadding": 11, "domainColor": "black", "domainWidth": 1.3, "tickColor": "black", "tickWidth": 1.3, "tickSize": -4}}
      }
     }
    ],
    "spacing": 37, "bounds": "flush", "resolve": {"scale": {"color": "independent"}}
   }
  ],
  "spacing": 27, "resolve": {"scale": {"color": "independent"}}
 },
 {
  "hconcat": [
   {
    "width": 232, "height": 191,
    "layer": [
     {"data": {"name": "h1"}, "mark": {"type": "bar", "color": "#111111", "stroke": "#555555", "strokeWidth": 0.2, "binSpacing": 0},
      "encoding": {
        "x": {"field": "lo", "type": "quantitative", "bin": "binned", "scale": {"domain": [-0.3, 0.872], "nice": false, "zero": false},
              "axis": {"values": [-0.2, 0, 0.12, 0.22, 0.5, 0.6, 0.8], "tickCount": 30, "labelExpr": "'' + datum.value", "title": "CorrCoef", "titleX": 106, "titleY": 43, "titleBaseline": "middle", "titleFontSize": 16, "titleColor": "#333333", "labelAngle": 45, "labelAlign": "left", "labelBaseline": "top", "labelPadding": 5, "labelFontSize": 15, "labelColor": "#333333", "ticks": false, "domainColor": "#999999", "domainWidth": 0.8}},
        "x2": {"field": "hi"},
        "y": {"field": "n", "type": "quantitative", "scale": {"domain": [0, 25000], "nice": false},
              "axis": {"values": [0, 5000, 10000, 15000, 20000, 25000], "tickCount": 30, "labelExpr": "'' + datum.value / 10000", "title": "Num. HD neurons", "titleX": -39, "titleBaseline": "middle", "titleFontSize": 16, "titleColor": "#333333", "labelFontSize": 15, "labelColor": "#333333", "labelPadding": 5, "ticks": false, "domainColor": "#999999", "domainWidth": 0.8}}}},
     {"data": {"values": [{}]}, "mark": {"type": "rule", "color": "#a13a40", "strokeWidth": 2.3},
      "encoding": {"x": {"datum": 0.12, "type": "quantitative"}, "y": {"datum": 0, "type": "quantitative"}, "y2": {"datum": 20000}}},
     {"data": {"values": [{}]}, "mark": {"type": "rule", "color": "#8fb363", "strokeWidth": 2.3},
      "encoding": {"x": {"datum": 0.22, "type": "quantitative"}, "y": {"datum": 0, "type": "quantitative"}, "y2": {"datum": 20000}}},
     {"data": {"values": [{}]}, "mark": {"type": "text", "text": "×10", "fontSize": 13, "align": "left", "baseline": "alphabetic", "dx": -4, "dy": -14, "color": "#333333"},
      "encoding": {"x": {"datum": -0.3, "type": "quantitative"}, "y": {"datum": 25000, "type": "quantitative"}}},
     {"data": {"values": [{}]}, "mark": {"type": "text", "text": "4", "fontSize": 10, "align": "left", "baseline": "alphabetic", "dx": 20, "dy": -28, "color": "#333333"},
      "encoding": {"x": {"datum": -0.3, "type": "quantitative"}, "y": {"datum": 25000, "type": "quantitative"}}},
     {"data": {"values": [{}]}, "mark": {"type": "text", "text": "ADN13021-Z", "fontSize": 15, "fontWeight": "bold", "align": "center", "baseline": "middle", "color": "black"},
      "encoding": {"x": {"datum": 0.185, "type": "quantitative"}, "y": {"datum": 29843, "type": "quantitative"}}},
     {"data": {"values": [{}]}, "mark": {"type": "text", "text": "b", "fontSize": 32, "align": "left", "baseline": "alphabetic", "dx": -58, "dy": -35, "color": "black"},
      "encoding": {"x": {"datum": -0.3, "type": "quantitative"}, "y": {"datum": 25000, "type": "quantitative"}}}
    ]
   },
   {
    "width": 231, "height": 191,
    "layer": [
     {"data": {"name": "h2"}, "mark": {"type": "bar", "color": "#111111", "stroke": "#666666", "strokeWidth": 0.4, "binSpacing": 0},
      "encoding": {
        "x": {"field": "lo", "type": "quantitative", "bin": "binned", "scale": {"domain": [-0.4, 0.92], "nice": false, "zero": false},
              "axis": {"values": [-0.4, -0.2, 0, 0.15, 0.3, 0.5, 0.8], "tickCount": 30, "labelExpr": "'' + datum.value", "title": "CorrCoef", "titleX": 111, "titleY": 43, "titleBaseline": "middle", "titleFontSize": 16, "titleColor": "#333333", "labelAngle": 45, "labelAlign": "left", "labelBaseline": "top", "labelPadding": 5, "labelFontSize": 15, "labelColor": "#333333", "ticks": false, "domainColor": "#999999", "domainWidth": 0.8}},
        "x2": {"field": "hi"},
        "y": {"field": "n", "type": "quantitative", "scale": {"domain": [0, 25000], "nice": false},
              "axis": {"values": [0, 5000, 10000, 15000, 20000, 25000], "tickCount": 30, "labelExpr": "'' + datum.value / 10000", "title": "Num. HD neurons", "titleX": -39, "titleBaseline": "middle", "titleFontSize": 16, "titleColor": "#333333", "labelFontSize": 15, "labelColor": "#333333", "labelPadding": 5, "ticks": false, "domainColor": "#999999", "domainWidth": 0.8}}}},
     {"data": {"values": [{}]}, "mark": {"type": "rule", "color": "#a13a40", "strokeWidth": 2.3},
      "encoding": {"x": {"datum": 0.15, "type": "quantitative"}, "y": {"datum": 0, "type": "quantitative"}, "y2": {"datum": 23000}}},
     {"data": {"values": [{}]}, "mark": {"type": "rule", "color": "#8fb363", "strokeWidth": 2.3},
      "encoding": {"x": {"datum": 0.3, "type": "quantitative"}, "y": {"datum": 0, "type": "quantitative"}, "y2": {"datum": 23000}}},
     {"data": {"values": [{}]}, "mark": {"type": "text", "text": "×10", "fontSize": 13, "align": "left", "baseline": "alphabetic", "dx": -7, "dy": -14, "color": "#333333"},
      "encoding": {"x": {"datum": -0.4, "type": "quantitative"}, "y": {"datum": 25000, "type": "quantitative"}}},
     {"data": {"values": [{}]}, "mark": {"type": "text", "text": "4", "fontSize": 10, "align": "left", "baseline": "alphabetic", "dx": 18, "dy": -28, "color": "#333333"},
      "encoding": {"x": {"datum": -0.4, "type": "quantitative"}, "y": {"datum": 25000, "type": "quantitative"}}},
     {"data": {"values": [{}]}, "mark": {"type": "text", "text": "ADN27021-Z", "fontSize": 15, "fontWeight": "bold", "align": "center", "baseline": "middle", "color": "black"},
      "encoding": {"x": {"datum": 0.217, "type": "quantitative"}, "y": {"datum": 29800, "type": "quantitative"}}}
    ]
   },
   {
    "width": 232, "height": 191,
    "layer": [
     {"data": {"name": "h3"}, "mark": {"type": "bar", "color": "#111111", "stroke": "#555555", "strokeWidth": 0.2, "binSpacing": 0},
      "encoding": {
        "x": {"field": "lo", "type": "quantitative", "bin": "binned", "scale": {"domain": [-0.31, 0.898], "nice": false, "zero": false},
              "axis": {"values": [-0.2, 0, 0.13, 0.25, 0.5, 0.8], "tickCount": 30, "labelExpr": "'' + datum.value", "title": "CorrCoef", "titleX": 108, "titleY": 43, "titleBaseline": "middle", "titleFontSize": 16, "titleColor": "#333333", "labelAngle": 45, "labelAlign": "left", "labelBaseline": "top", "labelPadding": 5, "labelFontSize": 15, "labelColor": "#333333", "ticks": false, "domainColor": "#999999", "domainWidth": 0.8}},
        "x2": {"field": "hi"},
        "y": {"field": "n", "type": "quantitative", "scale": {"domain": [0, 30000], "nice": false},
              "axis": {"values": [0, 5000, 10000, 15000, 20000, 25000, 30000], "tickCount": 30, "labelExpr": "'' + datum.value / 10000", "title": "Num. HD neurons", "titleX": -40, "titleBaseline": "middle", "titleFontSize": 16, "titleColor": "#333333", "labelFontSize": 15, "labelColor": "#333333", "labelPadding": 5, "ticks": false, "domainColor": "#999999", "domainWidth": 0.8}}}},
     {"data": {"values": [{}]}, "mark": {"type": "rule", "color": "#a13a40", "strokeWidth": 2.3},
      "encoding": {"x": {"datum": 0.13, "type": "quantitative"}, "y": {"datum": 0, "type": "quantitative"}, "y2": {"datum": 26000}}},
     {"data": {"values": [{}]}, "mark": {"type": "rule", "color": "#8fb363", "strokeWidth": 2.3},
      "encoding": {"x": {"datum": 0.25, "type": "quantitative"}, "y": {"datum": 0, "type": "quantitative"}, "y2": {"datum": 26000}}},
     {"data": {"values": [{}]}, "mark": {"type": "text", "text": "×10", "fontSize": 13, "align": "left", "baseline": "alphabetic", "dx": 1, "dy": -8, "color": "#333333"},
      "encoding": {"x": {"datum": -0.31, "type": "quantitative"}, "y": {"datum": 30000, "type": "quantitative"}}},
     {"data": {"values": [{}]}, "mark": {"type": "text", "text": "4", "fontSize": 10, "align": "left", "baseline": "alphabetic", "dx": 26, "dy": -21, "color": "#333333"},
      "encoding": {"x": {"datum": -0.31, "type": "quantitative"}, "y": {"datum": 30000, "type": "quantitative"}}},
     {"data": {"values": [{}]}, "mark": {"type": "text", "text": "ADN27022-Z", "fontSize": 15, "fontWeight": "bold", "align": "center", "baseline": "middle", "color": "black"},
      "encoding": {"x": {"datum": 0.267, "type": "quantitative"}, "y": {"datum": 35435, "type": "quantitative"}}}
    ]
   }
  ],
  "spacing": 70, "bounds": "flush"
 }
]
}
